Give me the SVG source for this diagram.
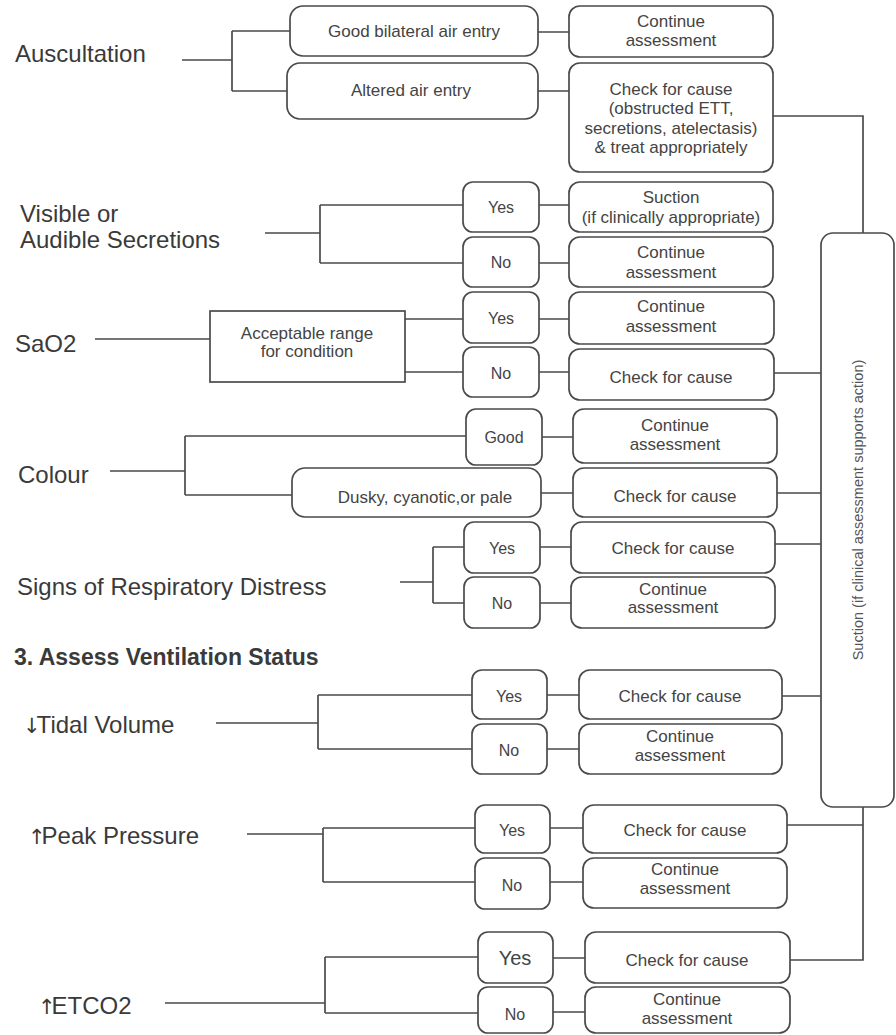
<svg xmlns="http://www.w3.org/2000/svg" width="896" height="1035" viewBox="0 0 896 1035">
<style>
text{font-family:"Liberation Sans",Arial,sans-serif;fill:#3a3a3a}
.lbl{font-size:24px}
.arr{font-family:"DejaVu Sans",sans-serif;font-weight:normal;font-size:21px;letter-spacing:-4px}
.hdr{font-size:23px;font-weight:bold}
.bt{font-size:17px;text-anchor:middle;fill:#444}
.yn{font-size:16px;text-anchor:middle;fill:#444}
.box{fill:#fff;stroke:#4a4a4a;stroke-width:1.7}
.con{fill:none;stroke:#4a4a4a;stroke-width:1.7}
</style>
<rect width="896" height="1035" fill="#fff"/>

<g id="connectors" class="con">
<path d="M182 60H232M232 31V91M232 31H290M232 91H287M538 32H569M538 91H569M773 116H863V233"/>
<path d="M265 233H320M320 205V263M320 205H463M320 263H463M539 205H569M539 263H569"/>
<path d="M95 339H210M405 319H463M405 372H463M539 319H569M539 372H569M774 373H821"/>
<path d="M110 471H185M185 436V495M185 436H466M185 495H292M542 437H573M541 493H573M777 493H821"/>
<path d="M400 582H433M433 547V603M433 547H464M433 603H464M540 547H571M540 603H571M775 544H821"/>
<path d="M216 723H318M318 695V749M318 695H472M318 749H472M547 695H579M547 749H579M782 696H821"/>
<path d="M247 834H323M323 828V882M323 828H475M323 882H475M550 828H583M550 882H583M787 825H863M863 807V960H790"/>
<path d="M165 1003H325M325 957V1013M325 957H478M325 1013H478M553 958H585M553 1012H585"/>
</g>

<g id="auscultation">
<text class="lbl" x="15" y="62">Auscultation</text>
</g>
<g id="a-good"><rect class="box" x="290" y="6" width="248" height="50" rx="13"/><text class="bt" x="414" y="37">Good bilateral air entry</text></g>
<g id="a-altered"><rect class="box" x="287" y="63" width="251" height="56" rx="13"/><text class="bt" x="411" y="96">Altered air entry</text></g>
<g id="a-continue"><rect class="box" x="569" y="6" width="204" height="51" rx="11"/><text class="bt" x="671" y="27">Continue</text><text class="bt" x="671" y="46">assessment</text></g>
<g id="a-check"><rect class="box" x="569" y="63" width="204" height="109" rx="11"/>
<text class="bt" x="671" y="95">Check for cause</text><text class="bt" x="671" y="114">(obstructed ETT,</text><text class="bt" x="671" y="134">secretions, atelectasis)</text><text class="bt" x="671" y="153">&amp; treat appropriately</text></g>

<g id="secretions"><text class="lbl" x="20" y="222">Visible or</text><text class="lbl" x="20" y="248">Audible Secretions</text></g>
<g id="s-yes"><rect class="box" x="463" y="182" width="76" height="50" rx="10"/><text class="yn" x="501" y="213">Yes</text></g>
<g id="s-no"><rect class="box" x="463" y="237" width="76" height="50" rx="10"/><text class="yn" x="501" y="268">No</text></g>
<g id="s-suction"><rect class="box" x="569" y="182" width="204" height="50" rx="11"/><text class="bt" x="671" y="203">Suction</text><text class="bt" x="671" y="223">(if clinically appropriate)</text></g>
<g id="s-continue"><rect class="box" x="569" y="237" width="204" height="50" rx="11"/><text class="bt" x="671" y="258">Continue</text><text class="bt" x="671" y="278">assessment</text></g>

<g id="sao2"><text class="lbl" x="15" y="352">SaO2</text></g>
<g id="sao2-range"><rect class="box" x="210" y="311" width="195" height="71"/><text class="bt" x="307" y="339">Acceptable range</text><text class="bt" x="307" y="357">for condition</text></g>
<g id="o-yes"><rect class="box" x="463" y="292" width="76" height="51" rx="10"/><text class="yn" x="501" y="324">Yes</text></g>
<g id="o-no"><rect class="box" x="463" y="347" width="76" height="50" rx="10"/><text class="yn" x="501" y="379">No</text></g>
<g id="o-continue"><rect class="box" x="569" y="292" width="205" height="52" rx="11"/><text class="bt" x="671" y="312">Continue</text><text class="bt" x="671" y="332">assessment</text></g>
<g id="o-check"><rect class="box" x="569" y="349" width="205" height="51" rx="11"/><text class="bt" x="671" y="383">Check for cause</text></g>

<g id="colour"><text class="lbl" x="18" y="483">Colour</text></g>
<g id="c-good"><rect class="box" x="466" y="409" width="76" height="56" rx="10"/><text class="yn" x="504" y="443">Good</text></g>
<g id="c-dusky"><rect class="box" x="292" y="468" width="249" height="49" rx="13"/><text class="bt" x="425" y="503">Dusky, cyanotic,or pale</text></g>
<g id="c-continue"><rect class="box" x="573" y="409" width="204" height="54" rx="11"/><text class="bt" x="675" y="431">Continue</text><text class="bt" x="675" y="450">assessment</text></g>
<g id="c-check"><rect class="box" x="573" y="468" width="204" height="49" rx="11"/><text class="bt" x="675" y="502">Check for cause</text></g>

<g id="distress"><text class="lbl" x="17" y="595">Signs of Respiratory Distress</text></g>
<g id="d-yes"><rect class="box" x="464" y="522" width="76" height="51" rx="10"/><text class="yn" x="502" y="554">Yes</text></g>
<g id="d-no"><rect class="box" x="464" y="577" width="76" height="51" rx="10"/><text class="yn" x="502" y="609">No</text></g>
<g id="d-check"><rect class="box" x="571" y="522" width="204" height="51" rx="11"/><text class="bt" x="673" y="554">Check for cause</text></g>
<g id="d-continue"><rect class="box" x="571" y="577" width="204" height="51" rx="11"/><text class="bt" x="673" y="595">Continue</text><text class="bt" x="673" y="613">assessment</text></g>

<g id="header3"><text class="hdr" x="14" y="665">3. Assess Ventilation Status</text></g>

<g id="tidal"><text class="lbl" x="23" y="733"><tspan class="arr">↓</tspan>Tidal Volume</text></g>
<g id="t-yes"><rect class="box" x="472" y="670" width="75" height="49" rx="10"/><text class="yn" x="509" y="702">Yes</text></g>
<g id="t-no"><rect class="box" x="472" y="724" width="75" height="50" rx="10"/><text class="yn" x="509" y="756">No</text></g>
<g id="t-check"><rect class="box" x="579" y="670" width="203" height="49" rx="11"/><text class="bt" x="680" y="702">Check for cause</text></g>
<g id="t-continue"><rect class="box" x="579" y="724" width="203" height="50" rx="11"/><text class="bt" x="680" y="742">Continue</text><text class="bt" x="680" y="761">assessment</text></g>

<g id="peak"><text class="lbl" x="28" y="844"><tspan class="arr">↑</tspan>Peak Pressure</text></g>
<g id="p-yes"><rect class="box" x="475" y="805" width="75" height="48" rx="10"/><text class="yn" x="512" y="836">Yes</text></g>
<g id="p-no"><rect class="box" x="475" y="858" width="75" height="51" rx="10"/><text class="yn" x="512" y="891">No</text></g>
<g id="p-check"><rect class="box" x="583" y="805" width="204" height="48" rx="11"/><text class="bt" x="685" y="836">Check for cause</text></g>
<g id="p-continue"><rect class="box" x="583" y="858" width="204" height="50" rx="11"/><text class="bt" x="685" y="875">Continue</text><text class="bt" x="685" y="894">assessment</text></g>

<g id="etco2"><text class="lbl" x="38" y="1014"><tspan class="arr">↑</tspan>ETCO2</text></g>
<g id="e-yes"><rect class="box" x="478" y="932" width="75" height="51" rx="10"/><text class="yn" x="515" y="965" style="font-size:20px">Yes</text></g>
<g id="e-no"><rect class="box" x="478" y="987" width="75" height="46" rx="10"/><text class="yn" x="515" y="1020">No</text></g>
<g id="e-check"><rect class="box" x="585" y="932" width="205" height="51" rx="11"/><text class="bt" x="687" y="966">Check for cause</text></g>
<g id="e-continue"><rect class="box" x="585" y="987" width="205" height="46" rx="11"/><text class="bt" x="687" y="1005">Continue</text><text class="bt" x="687" y="1024">assessment</text></g>

<g id="suction"><rect class="box" x="821" y="233" width="73" height="574" rx="12"/>
<text transform="translate(863,510) rotate(-90)" style="font-size:14.5px;text-anchor:middle;fill:#555">Suction  (if clinical assessment supports action)</text></g>
</svg>
